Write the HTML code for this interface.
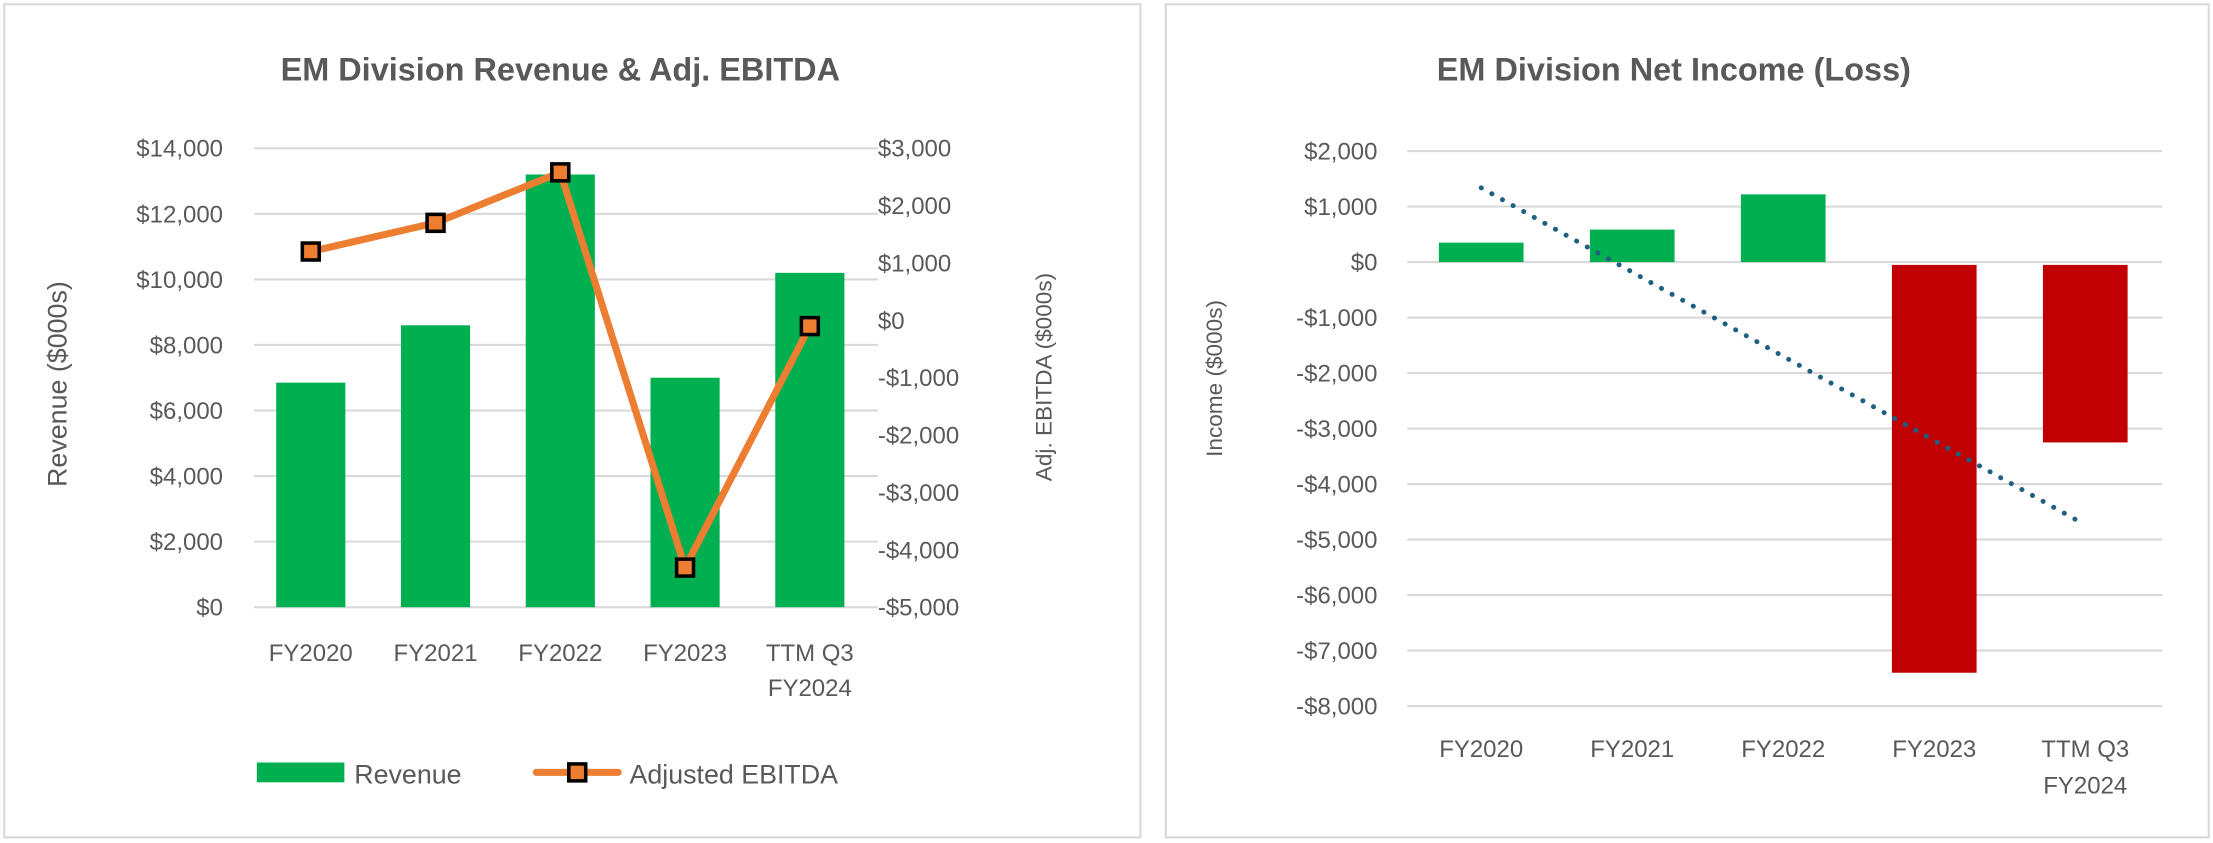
<!DOCTYPE html>
<html><head><meta charset="utf-8"><style>
html,body{margin:0;padding:0;background:#fff;}
svg{display:block;}
text{font-family:"Liberation Sans",sans-serif;fill:#595959;}
</style></head><body>
<svg id="svg" width="2213" height="843" viewBox="0 0 1568 597" preserveAspectRatio="none" xmlns="http://www.w3.org/2000/svg">
<rect x="3" y="3" width="805" height="590" fill="#fff" stroke="#d9d9d9" stroke-width="1.5"/>
<rect x="826" y="3" width="739" height="590" fill="#fff" stroke="#d9d9d9" stroke-width="1.5"/>
<text x="397" y="57" text-anchor="middle" font-size="23" font-weight="bold">EM Division Revenue &amp; Adj. EBITDA</text>
<text x="1186" y="57" text-anchor="middle" font-size="23" font-weight="bold">EM Division Net Income (Loss)</text>
<text transform="translate(47,272) rotate(-90)" text-anchor="middle" font-size="19">Revenue ($000s)</text>
<text transform="translate(745,267) rotate(-90)" text-anchor="middle" font-size="16">Adj. EBITDA ($000s)</text>
<text transform="translate(866,268) rotate(-90)" text-anchor="middle" font-size="16">Income ($000s)</text>
<g id="left"></g><g id="right"></g>
<g>
<rect x="182" y="540" width="62" height="14" fill="#00b050"/>
<text x="251" y="555" font-size="19">Revenue</text>
<line x1="380" y1="547" x2="438" y2="547" stroke="#ed7d31" stroke-width="5" stroke-linecap="round"/>
<rect x="403" y="541" width="12" height="12" fill="#ed7d31" stroke="#000" stroke-width="2.5"/>
<text x="446" y="555" font-size="19">Adjusted EBITDA</text>
</g>
</svg>
<script>
const categories = ["FY2020","FY2021","FY2022","FY2023","TTM Q3|FY2024"];
const revenue = [6850, 8600, 13200, 7000, 10200];
const ebitda = [1200, 1700, 2580, -4310, -100];
const revTicks = [0,2000,4000,6000,8000,10000,12000,14000];
const ebitdaTicks = [-5000,-4000,-3000,-2000,-1000,0,1000,2000,3000];
const netIncome = [350, 585, 1220, -7400, -3250];
const incomeTicks = [-8000,-7000,-6000,-5000,-4000,-3000,-2000,-1000,0,1000,2000];

const NS = "http://www.w3.org/2000/svg";
function mk(parent, tag, attrs){const e=document.createElementNS(NS,tag);for(const k in attrs)e.setAttribute(k,attrs[k]);parent.appendChild(e);return e;}
function fmt(v){const s="$"+Math.abs(v).toLocaleString("en-US");return v<0?"-"+s:s;}

// Left chart
const L = document.getElementById("left");
const lx0=180, lx1=622, ly0=430, ly1=105;
const yRev = v => ly0 - (v-0)/(14000-0)*(ly0-ly1);
const yEb = v => ly0 - (v+5000)/(3000+5000)*(ly0-ly1);
const lStep = (lx1-lx0)/categories.length;
const xL = i => lx0 + lStep*(i+0.5) - 4;
revTicks.forEach(t=>{
  const g=mk(L,"line",{x1:lx0,x2:lx1,y1:yRev(t),y2:yRev(t),stroke:"#d9d9d9","stroke-width":1.5});
  
  
  const tx=mk(L,"text",{x:158,y:yRev(t)+6,"text-anchor":"end","font-size":17});
  tx.textContent=fmt(t);
  
  
});
ebitdaTicks.forEach(t=>{
  const tx=mk(L,"text",{x:622,y:yEb(t)+6,"font-size":17});
  tx.textContent=fmt(t);
  
  
});
revenue.forEach((v,i)=>{
  const w=49;
  const r=mk(L,"rect",{x:xL(i)-w/2,y:yRev(v),width:w,height:yRev(0)-yRev(v),fill:"#00b050"});
  
  
});
categories.forEach((c,i)=>{
  c.split("|").forEach((ln,j)=>{
    const tx=mk(L,"text",{x:xL(i),y:468+j*25,"text-anchor":"middle","font-size":17});
    tx.textContent=ln;
    
    
  });
});
const pl=mk(L,"polyline",{points:ebitda.map((v,i)=>xL(i)+","+yEb(v)).join(" "),fill:"none",stroke:"#ed7d31","stroke-width":5,"stroke-linejoin":"round"});


ebitda.forEach((v,i)=>{
  const m=mk(L,"rect",{x:xL(i)-6,y:yEb(v)-6,width:12,height:12,fill:"#ed7d31",stroke:"#000","stroke-width":2.5});
  
  
});

// Right chart
const R = document.getElementById("right");
const rx0=997, rx1=1532, ry0=500, ry1=107;
const yInc = v => ry0 - (v+8000)/(10000)*(ry0-ry1);
const rStep=(rx1-rx0)/categories.length;
const xR = i => rx0 + rStep*(i+0.5) - 1;
incomeTicks.forEach(t=>{
  const g=mk(R,"line",{x1:rx0,x2:rx1,y1:yInc(t),y2:yInc(t),stroke:"#d9d9d9","stroke-width":1.5});
  
  
  const tx=mk(R,"text",{x:976,y:yInc(t)+6,"text-anchor":"end","font-size":17});
  tx.textContent=fmt(t);
  
  
});
netIncome.forEach((v,i)=>{
  const w=60;
  const top = v>=0 ? yInc(v) : yInc(0)+2;
  const h = v>=0 ? yInc(0)-yInc(v) : yInc(v)-yInc(0)-2;
  const r=mk(R,"rect",{x:xR(i)-w/2,y:top,width:w,height:h,fill:v>=0?"#00b050":"#c00000"});
  
  
});
categories.forEach((c,i)=>{
  c.split("|").forEach((ln,j)=>{
    const tx=mk(R,"text",{x:xR(i),y:536+j*26,"text-anchor":"middle","font-size":17});
    tx.textContent=ln;
    
    
  });
});
// linear trendline (least squares from data)
const n=netIncome.length;
const mx=(n-1)/2, my=netIncome.reduce((a,b)=>a+b,0)/n;
let sxy=0,sxx=0; netIncome.forEach((v,i)=>{sxy+=(i-mx)*(v-my);sxx+=(i-mx)*(i-mx);});
const slope=sxy/sxx, icpt=my-slope*mx;
const tl=mk(R,"line",{x1:xR(0),y1:yInc(icpt),x2:xR(n-1),y2:yInc(icpt+slope*(n-1)),stroke:"#1f6080","stroke-width":3.5,"stroke-dasharray":"0.1 8.5","stroke-linecap":"round"});


</script>
</body></html>
